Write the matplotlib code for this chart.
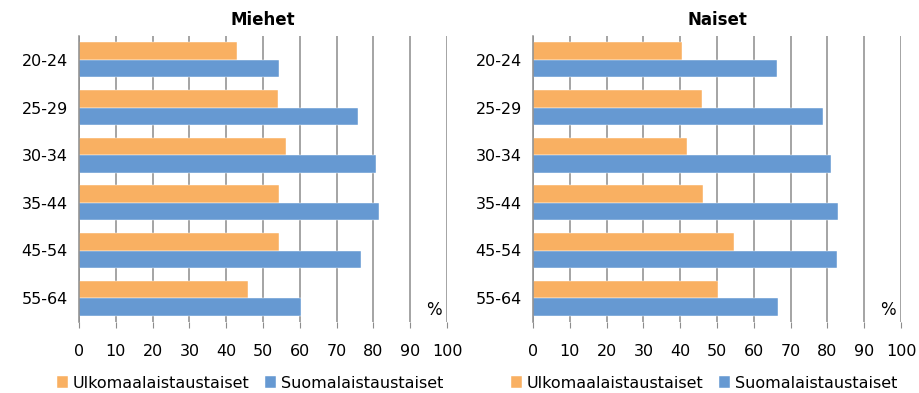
import numpy as np
import matplotlib.pyplot as plt

# Ikäryhmät ja osuudet (%)
ikaryhmat = ['20-24', '25-29', '30-34', '35-44', '45-54', '55-64']
sarjat = ['Ulkomaalaistaustaiset', 'Suomalaistaustaiset']
miehet_ulko = [42.8, 54.0, 56.3, 54.4, 54.3, 45.9]
miehet_suomi = [54.3, 75.7, 80.7, 81.4, 76.5, 60.2]
naiset_ulko = [40.6, 45.9, 41.9, 46.1, 54.7, 50.4]
naiset_suomi = [66.4, 78.7, 80.9, 82.8, 82.7, 66.7]

oranssi = '#F9B062'
sininen = '#6699D2'
harmaa = '#8C8C8C'

fig = plt.figure(figsize=(9.19, 3.93), dpi=100)
W, H = 919, 393

def piirra(ax, ulko, suomi, otsikko):
    y = np.arange(len(ikaryhmat))
    h = 0.37
    ax.barh(y - h / 2, ulko, height=h, color=oranssi, edgecolor='white', linewidth=0.3,
            label=sarjat[0])
    ax.barh(y + h / 2, suomi, height=h, color=sininen, edgecolor='white', linewidth=0.3,
            label=sarjat[1])
    ax.set_ylim(len(ikaryhmat) - 0.5, -0.5)
    ax.set_yticks(y)
    ax.set_yticklabels(ikaryhmat, fontsize=11.5)
    ax.set_xlim(0, 100)
    ax.set_xticks(range(0, 101, 10))
    ax.tick_params(axis='x', labelsize=11.5, length=4, color=harmaa, pad=12)
    ax.tick_params(axis='y', length=0, pad=8)
    ax.grid(axis='x', color=harmaa, linewidth=1.1)
    ax.set_axisbelow(True)
    for s in ['top', 'right', 'bottom']:
        ax.spines[s].set_visible(False)
    ax.spines['left'].set_color(harmaa)
    ax.spines['left'].set_linewidth(1.1)
    ax.set_title(otsikko, fontsize=12, fontweight='bold', pad=8)
    ax.text(96.5, 5.25, '%', fontsize=12, ha='center', va='center')
    # selite kuvan koordinaateissa akselin alle
    x0, y0, w, h_ax = ax.get_position().bounds
    ax.legend(loc='center', bbox_to_anchor=(x0 + w / 2 - 0.014, 1 - 383 / H),
              bbox_transform=fig.transFigure, ncol=2, frameon=False,
              fontsize=11.5, handlelength=0.7, handleheight=0.7, handletextpad=0.3,
              columnspacing=1.0, borderpad=0)

ax1 = fig.add_axes([79 / W, 1 - 322 / H, 368 / W, 286 / H])
ax2 = fig.add_axes([533 / W, 1 - 322 / H, 368 / W, 286 / H])
piirra(ax1, miehet_ulko, miehet_suomi, 'Miehet')
piirra(ax2, naiset_ulko, naiset_suomi, 'Naiset')

fig.savefig('out.png', dpi=100)
